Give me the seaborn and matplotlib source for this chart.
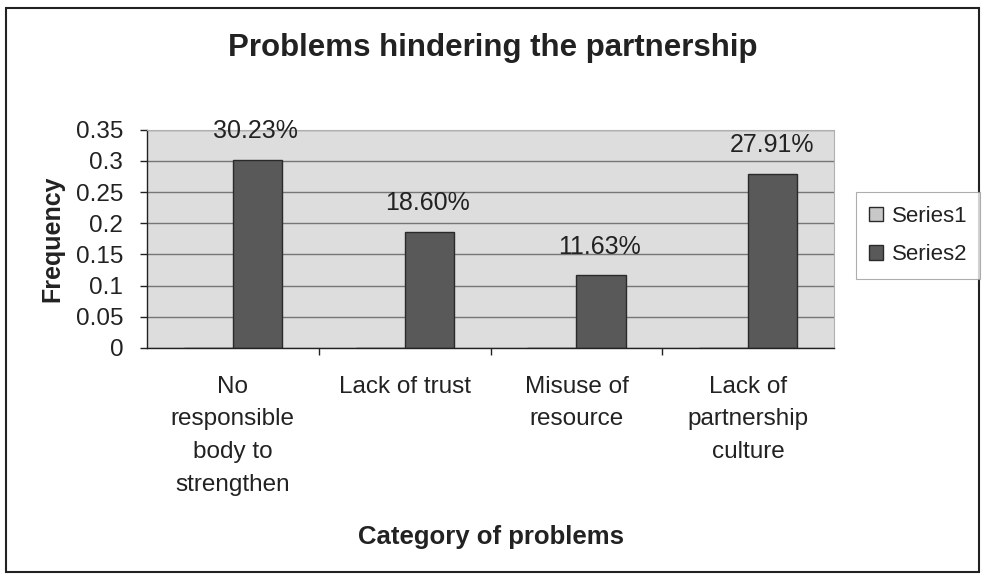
import matplotlib
matplotlib.use("Agg")
import matplotlib.pyplot as plt
import seaborn as sns
import pandas as pd
from matplotlib.patches import Patch, Rectangle

categories = ["No\nresponsible\nbody to\nstrengthen", "Lack of trust",
              "Misuse of\nresource", "Lack of\npartnership\nculture"]
series1 = [0.0, 0.0, 0.0, 0.0]
series2 = [0.3023, 0.1860, 0.1163, 0.2791]
value_labels = ["30.23%", "18.60%", "11.63%", "27.91%"]
yticks = [0, 0.05, 0.1, 0.15, 0.2, 0.25, 0.3, 0.35]
ytick_labels = ["0", "0.05", "0.1", "0.15", "0.2", "0.25", "0.3", "0.35"]

df = pd.DataFrame({
    "Category": categories * 2,
    "Series": ["Series1"] * 4 + ["Series2"] * 4,
    "Frequency": series1 + series2,
})

sns.set_theme(style="white")
plt.rcParams["font.family"] = ["Liberation Sans", "DejaVu Sans"]

TXT = "#222222"
fig = plt.figure(figsize=(9.85, 5.77), dpi=100)
ax = fig.add_axes([0.149, 0.397, 0.698, 0.378])
ax.set_facecolor("#dddddd")

sns.barplot(data=df, x="Category", y="Frequency", hue="Series",
            order=categories, hue_order=["Series1", "Series2"],
            palette={"Series1": "#c8c8c8", "Series2": "#595959"},
            width=0.571, edgecolor="#2a2a2a", linewidth=1.0,
            errorbar=None, legend=False, ax=ax)

ax.set_ylim(0, 0.35)
ax.set_xlim(-0.5, 3.5)
ax.set_yticks(yticks)
ax.set_yticklabels(ytick_labels)
ax.yaxis.grid(True, color="#767676", linewidth=1.0)
ax.set_axisbelow(True)

# value labels on Series2 bars
s2_bars = ax.patches[4:8]
for bar, lab in zip(s2_bars, value_labels):
    ax.annotate(lab, (bar.get_x() + bar.get_width() / 2, bar.get_height()),
                xytext=(-1, 12), textcoords="offset points",
                ha="center", va="bottom", fontsize=18, color=TXT)

for s in ["top", "right"]:
    ax.spines[s].set_visible(True)
    ax.spines[s].set_color("#b0b0b0")
    ax.spines[s].set_linewidth(0.8)
for s in ["left", "bottom"]:
    ax.spines[s].set_color(TXT)
    ax.spines[s].set_linewidth(1.0)

ax.tick_params(axis="y", which="major", direction="out", length=5,
               width=1, color=TXT, labelsize=17.5, pad=12,
               left=True, labelcolor=TXT)
ax.tick_params(axis="x", which="major", length=0, labelsize=17.5, pad=20,
               labelcolor=TXT)
ax.set_xticks([0.5, 1.5, 2.5], minor=True)
ax.tick_params(axis="x", which="minor", direction="out", length=5,
               width=1, color=TXT, bottom=True)
for t in ax.get_xticklabels():
    t.set_linespacing(1.63)
    t.set_ha("center")

ax.set_xlabel("Category of problems", fontsize=18.5, fontweight="bold",
              color=TXT)
ax.xaxis.set_label_coords(0.5, -0.865)
ax.xaxis.label.set_va("center")
ax.set_ylabel("Frequency", fontsize=18, fontweight="bold", color=TXT)
ax.yaxis.set_label_coords(-0.138, 0.5)
ax.yaxis.label.set_va("center")

fig.text(0.5, 0.917, "Problems hindering the partnership", ha="center",
         va="center", fontsize=22.5, fontweight="bold", color=TXT)

handles = [Patch(facecolor="#c8c8c8", edgecolor="#2a2a2a", label="Series1"),
           Patch(facecolor="#595959", edgecolor="#2a2a2a", label="Series2")]
leg = fig.legend(handles=handles, loc="center left",
                 bbox_to_anchor=(0.869, 0.592), fontsize=16,
                 frameon=True, fancybox=False, edgecolor="#999999",
                 handlelength=0.6, handleheight=0.6, handletextpad=0.4,
                 labelspacing=0.8, borderpad=0.6, borderaxespad=0)
leg.get_frame().set_linewidth(0.8)
leg._legend_box.sep = 0
for t in leg.get_texts():
    t.set_color(TXT)

fig.patches.append(Rectangle((0.006, 0.008), 0.988, 0.978,
                             transform=fig.transFigure, fill=False,
                             edgecolor=TXT, linewidth=1.5))

fig.savefig("out.png", dpi=100, facecolor="white")
